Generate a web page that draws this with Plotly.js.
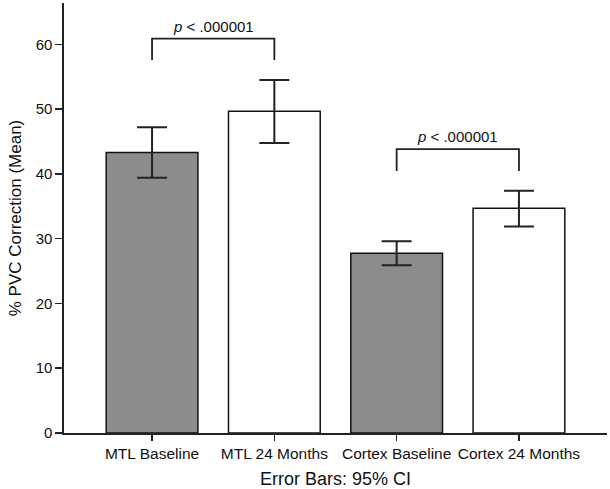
<!DOCTYPE html>
<html>
<head>
<meta charset="utf-8">
<script src="https://cdn.plot.ly/plotly-3.0.1.min.js"></script>
<style>html,body{margin:0;padding:0;background:#fff;}#chart{width:610px;height:489px;}</style>
</head>
<body>
<div id="chart"></div>
<script>
// Data
var categories = ["MTL Baseline", "MTL 24 Months", "Cortex Baseline", "Cortex 24 Months"];
var meanValues = [43.3, 49.7, 27.75, 34.7];
var ciUpper = [47.2, 54.5, 29.6, 37.4];
var ciLower = [39.4, 44.8, 25.9, 31.9];
var barFills = ["#8c8c8c", "#ffffff", "#8c8c8c", "#ffffff"];
// Significance brackets: [left category index, right category index]
var bracketPairs = [[0, 1], [2, 3]];
var bracketTop = [60.9, 43.85];
var bracketLegBottom = [57.6, 40.45];
var bracketLabels = ["<i>p</i> < .000001", "<i>p</i> < .000001"];

var FONT = "Liberation Sans, Arial, Helvetica, sans-serif";

var errPlus = meanValues.map(function (v, i) { return ciUpper[i] - v; });
var errMinus = meanValues.map(function (v, i) { return v - ciLower[i]; });

var traces = [{
  type: "bar",
  x: categories,
  y: meanValues,
  width: 0.75,
  marker: { color: barFills, line: { color: "#111", width: 1.5 } },
  error_y: { type: "data", symmetric: false, array: errPlus, arrayminus: errMinus,
             color: "#222", thickness: 2, width: 15 },
  hoverinfo: "x+y",
  showlegend: false
}];

var annotations = [];
bracketPairs.forEach(function (pair, k) {
  var a = categories[pair[0]], b = categories[pair[1]];
  traces.push({
    type: "scatter", mode: "lines",
    x: [a, a, b, b],
    y: [bracketLegBottom[k], bracketTop[k], bracketTop[k], bracketLegBottom[k]],
    line: { color: "#222", width: 1.8 },
    hoverinfo: "skip", showlegend: false
  });
  annotations.push({
    x: (pair[0] + pair[1]) / 2, y: bracketTop[k], xref: "x", yref: "y",
    text: bracketLabels[k], showarrow: false, yanchor: "bottom", yshift: 2,
    font: { family: FONT, size: 15, color: "#111" }
  });
});

var layout = {
  width: 610, height: 489,
  margin: { l: 64, r: 3, t: 3, b: 56 },
  paper_bgcolor: "#fff", plot_bgcolor: "#fff",
  font: { family: FONT, color: "#111" },
  bargap: 0.25,
  xaxis: {
    type: "category",
    range: [-0.72, 3.72],
    showline: true, linecolor: "#222", linewidth: 1.6,
    ticks: "outside", ticklen: 6, tickcolor: "#222", tickwidth: 1.5,
    tickfont: { family: FONT, size: 15.5, color: "#111" },
    showgrid: false, zeroline: false, fixedrange: true,
    title: { text: "Error Bars: 95% CI", font: { family: FONT, size: 18, color: "#111" }, standoff: 12 }
  },
  yaxis: {
    range: [0, 66.4],
    tickvals: [0, 10, 20, 30, 40, 50, 60],
    showline: true, linecolor: "#222", linewidth: 1.6,
    ticks: "outside", ticklen: 7, tickcolor: "#222", tickwidth: 1.5,
    tickfont: { family: FONT, size: 15, color: "#111" },
    showgrid: false, zeroline: false, fixedrange: true,
    title: { text: "% PVC Correction (Mean)", font: { family: FONT, size: 17, color: "#111" }, standoff: 10 }
  },
  annotations: annotations
};

Plotly.newPlot("chart", traces, layout, { displayModeBar: false, staticPlot: true });
</script>
</body>
</html>
